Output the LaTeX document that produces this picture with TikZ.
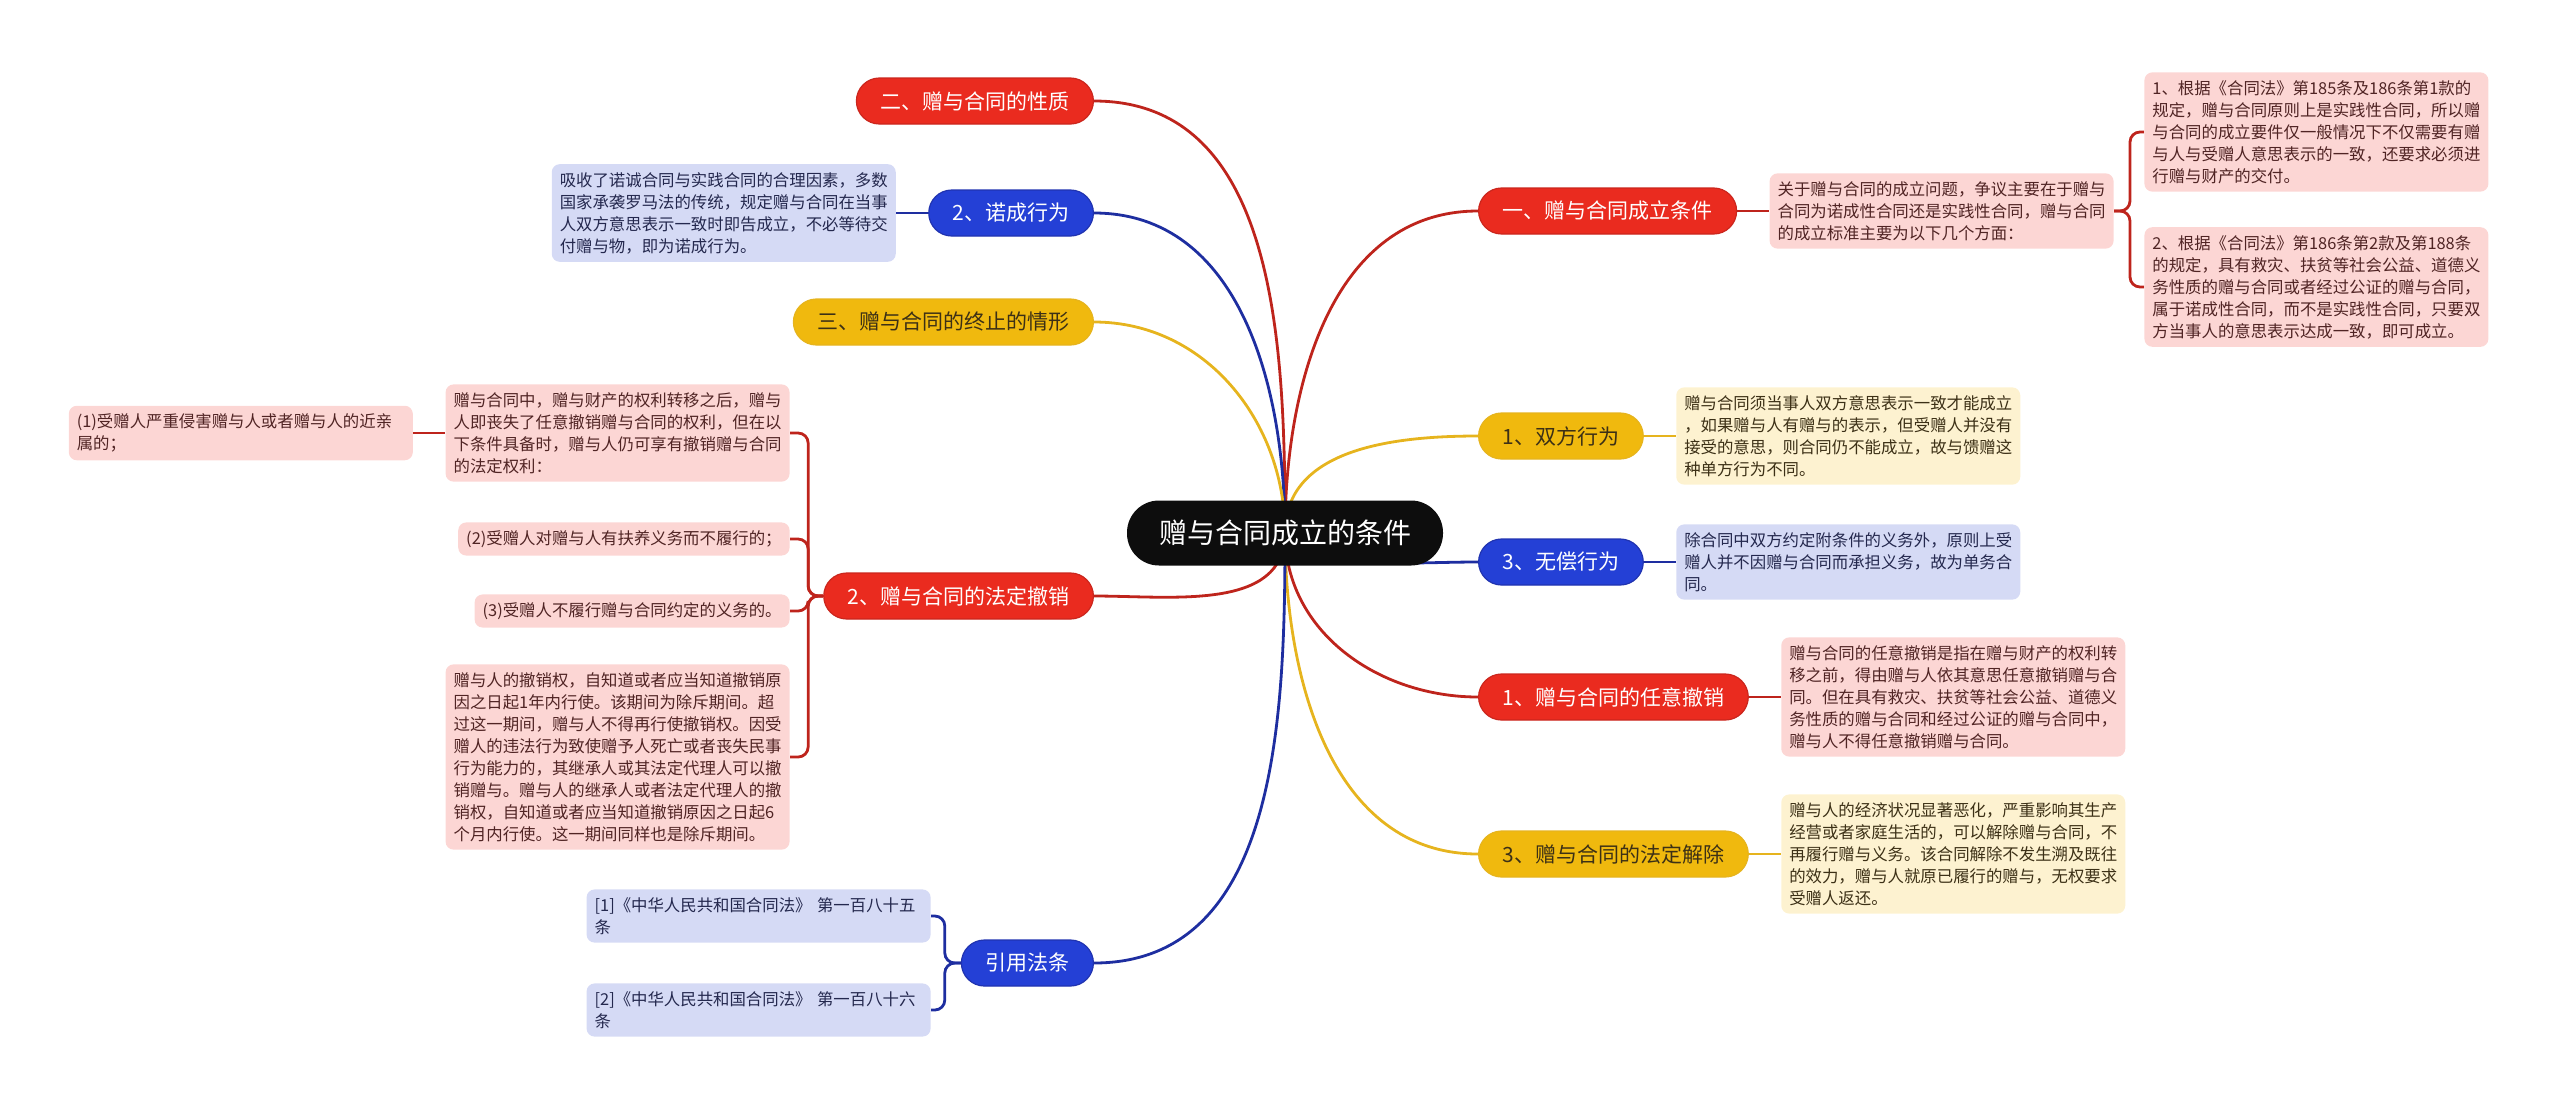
\documentclass[tikz,border=0pt]{standalone}
\usepackage{fontspec}
\setmainfont{Noto Sans CJK SC}
\usepackage{xcolor}
\usetikzlibrary{positioning,backgrounds}
\definecolor{redfill}{RGB}{234,43,31}
\definecolor{bluefill}{RGB}{36,64,214}
\definecolor{yellowfill}{RGB}{240,185,14}
\definecolor{redline}{RGB}{190,36,28}
\definecolor{blueline}{RGB}{30,46,160}
\definecolor{yellowline}{RGB}{230,180,30}
\definecolor{notepink}{RGB}{252,214,212}
\definecolor{noteyellow}{RGB}{253,242,208}
\definecolor{noteblue}{RGB}{213,218,245}
\definecolor{pinktext}{RGB}{80,36,36}
\definecolor{yellowtext}{RGB}{60,48,22}
\definecolor{bluetext}{RGB}{36,40,78}

\begin{document}
\begin{tikzpicture}[x=0.5pt,y=-0.5pt,
  node distance=16pt,
  maintopic/.style={fill=black!95,text=white,rounded corners=16pt,minimum height=32.5pt,
                    inner xsep=16pt,font=\fontsize{14}{16}\selectfont},
  topic/.style={rounded corners=11.5pt,minimum height=23pt,inner xsep=12pt,inner ysep=0pt,
                line width=0.6pt,font=\fontsize{10.5}{12}\selectfont},
  redtopic/.style={topic,fill=redfill,draw=redline!70!redfill,text=white},
  bluetopic/.style={topic,fill=bluefill,draw=blueline!70!bluefill,text=white},
  yellowtopic/.style={topic,fill=yellowfill,draw=yellowline,text=yellowtext},
  box/.style={rounded corners=4pt,inner sep=4pt,align=left,font=\fontsize{8.2}{11}\selectfont},
  wide/.style={text width=164pt},
  pbox/.style={box,fill=notepink,text=pinktext},
  ybox/.style={box,fill=noteyellow,text=yellowtext},
  bbox/.style={box,fill=noteblue,text=bluetext},
  redlink/.style={draw=redline,line width=1.4pt},
  bluelink/.style={draw=blueline,line width=1.4pt},
  yellowlink/.style={draw=yellowline,line width=1.4pt}
]
\useasboundingbox (0,0) rectangle (2560,1110);
\node[maintopic] (root) at (1285,533) {赠与合同成立的条件};

\node[redtopic,anchor=west] (r1) at (1478,211) {一、赠与合同成立条件};
\node[yellowtopic,anchor=west] (r2) at (1478,436) {1、双方行为};
\node[bluetopic,anchor=west] (r3) at (1478,562) {3、无偿行为};
\node[redtopic,anchor=west] (r4) at (1478,697) {1、赠与合同的任意撤销};
\node[yellowtopic,anchor=west] (r5) at (1478,854) {3、赠与合同的法定解除};

\node[redtopic,anchor=east] (l1) at (1094,101) {二、赠与合同的性质};
\node[bluetopic,anchor=east] (l2) at (1094,213) {2、诺成行为};
\node[yellowtopic,anchor=east] (l3) at (1094,322) {三、赠与合同的终止的情形};
\node[redtopic,anchor=east] (l4) at (1094,596) {2、赠与合同的法定撤销};
\node[bluetopic,anchor=east] (l5) at (1094,963) {引用法条};

\node[pbox,wide,right=of r1] (r1n) {关于赠与合同的成立问题，争议主要在于赠与\\合同为诺成性合同还是实践性合同，赠与合同\\的成立标准主要为以下几个方面：};
\node[pbox,wide,anchor=west] (r1a) at (2144,132) {1、根据《合同法》第185条及186条第1款的\\规定，赠与合同原则上是实践性合同，所以赠\\与合同的成立要件仅一般情况下不仅需要有赠\\与人与受赠人意思表示的一致，还要求必须进\\行赠与财产的交付。};
\node[pbox,wide,anchor=west] (r1b) at (2144,287) {2、根据《合同法》第186条第2款及第188条\\的规定，具有救灾、扶贫等社会公益、道德义\\务性质的赠与合同或者经过公证的赠与合同，\\属于诺成性合同，而不是实践性合同，只要双\\方当事人的意思表示达成一致，即可成立。};
\node[ybox,wide,right=of r2] (r2n) {赠与合同须当事人双方意思表示一致才能成立\\，如果赠与人有赠与的表示，但受赠人并没有\\接受的意思，则合同仍不能成立，故与馈赠这\\种单方行为不同。};
\node[bbox,wide,right=of r3] (r3n) {除合同中双方约定附条件的义务外，原则上受\\赠人并不因赠与合同而承担义务，故为单务合\\同。};
\node[pbox,wide,right=of r4] (r4n) {赠与合同的任意撤销是指在赠与财产的权利转\\移之前，得由赠与人依其意思任意撤销赠与合\\同。但在具有救灾、扶贫等社会公益、道德义\\务性质的赠与合同和经过公证的赠与合同中，\\赠与人不得任意撤销赠与合同。};
\node[ybox,wide,right=of r5] (r5n) {赠与人的经济状况显著恶化，严重影响其生产\\经营或者家庭生活的，可以解除赠与合同，不\\再履行赠与义务。该合同解除不发生溯及既往\\的效力，赠与人就原已履行的赠与，无权要求\\受赠人返还。};

\node[bbox,wide,left=of l2] (l2n) {吸收了诺诚合同与实践合同的合理因素，多数\\国家承袭罗马法的传统，规定赠与合同在当事\\人双方意思表示一致时即告成立，不必等待交\\付赠与物，即为诺成行为。};
\node[pbox,wide,anchor=east] (l4a) at (790,433) {赠与合同中，赠与财产的权利转移之后，赠与\\人即丧失了任意撤销赠与合同的权利，但在以\\下条件具备时，赠与人仍可享有撤销赠与合同\\的法定权利：};
\node[pbox,wide,left=of l4a] (l4a1) {(1)受赠人严重侵害赠与人或者赠与人的近亲\\属的；};
\node[pbox,anchor=east] (l4b) at (790,539) {(2)受赠人对赠与人有扶养义务而不履行的；};
\node[pbox,anchor=east] (l4c) at (790,611) {(3)受赠人不履行赠与合同约定的义务的。};
\node[pbox,wide,anchor=east] (l4d) at (790,757) {赠与人的撤销权，自知道或者应当知道撤销原\\因之日起1年内行使。该期间为除斥期间。超\\过这一期间，赠与人不得再行使撤销权。因受\\赠人的违法行为致使赠予人死亡或者丧失民事\\行为能力的，其继承人或其法定代理人可以撤\\销赠与。赠与人的继承人或者法定代理人的撤\\销权，自知道或者应当知道撤销原因之日起6\\个月内行使。这一期间同样也是除斥期间。};
\node[bbox,wide,anchor=east] (l5a) at (931,916) {[1]《中华人民共和国合同法》~第一百八十五\\条};
\node[bbox,wide,anchor=east] (l5b) at (931,1010) {[2]《中华人民共和国合同法》~第一百八十六\\条};

\begin{scope}[on background layer]
\draw[redlink] (root.center) to[out=90,in=180] (r1.west);
\draw[yellowlink] (root.center) to[out=90,in=180] (r2.west);
\draw[bluelink] (root.center) to[out=-30,in=180] (r3.west);
\draw[redlink] (root.center) to[out=-90,in=180] (r4.west);
\draw[yellowlink] (root.center) to[out=-90,in=180] (r5.west);
\draw[redlink] (root.center) to[out=90,in=0] (l1.east);
\draw[bluelink] (root.center) to[out=90,in=0] (l2.east);
\draw[yellowlink] (root.center) to[out=90,in=0] (l3.east);
\draw[redlink] (root.center) to[out=-90,in=0] (l4.east);
\draw[bluelink] (root.center) to[out=-90,in=0] (l5.east);

\draw[redlink] (r1.east) -- (r1n.west);
\draw[redlink,rounded corners=5pt] (r1n.east) -- ++(16,0) |- (r1a.west);
\draw[redlink,rounded corners=5pt] (r1n.east) -- ++(16,0) |- (r1b.west);
\draw[yellowlink] (r2.east) -- (r2n.west);
\draw[bluelink] (r3.east) -- (r3n.west);
\draw[redlink] (r4.east) -- (r4n.west);
\draw[yellowlink] (r5.east) -- (r5n.west);

\draw[bluelink] (l2.west) -- (l2n.east);
\draw[redlink,rounded corners=5pt] (l4.west) -- ++(-15,0) |- (l4a.east);
\draw[redlink,rounded corners=5pt] (l4.west) -- ++(-15,0) |- (l4b.east);
\draw[redlink,rounded corners=5pt] (l4.west) -- ++(-15,0) |- (l4c.east);
\draw[redlink,rounded corners=5pt] (l4.west) -- ++(-15,0) |- (l4d.east);
\draw[redlink] (l4a.west) -- (l4a1.east);
\draw[bluelink,rounded corners=5pt] (l5.west) -- ++(-16,0) |- (l5a.east);
\draw[bluelink,rounded corners=5pt] (l5.west) -- ++(-16,0) |- (l5b.east);
\end{scope}
\end{tikzpicture}
\end{document}
